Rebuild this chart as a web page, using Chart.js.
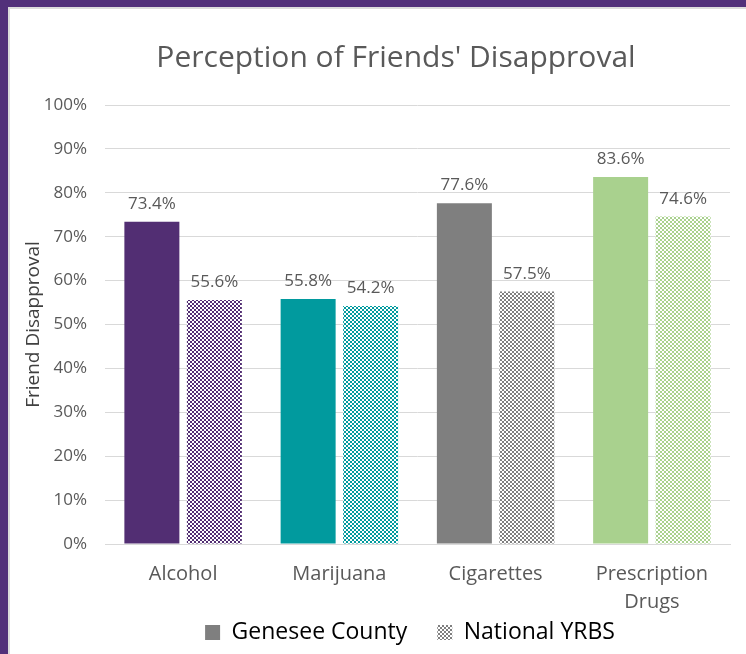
<!DOCTYPE html>
<html>
<head>
<meta charset="utf-8">
<script src="https://cdn.jsdelivr.net/npm/chart.js@4.4.0/dist/chart.umd.min.js"></script>
<style>
    html, body { margin: 0; padding: 0; }
    body { width: 746px; height: 654px; background: #52307a; position: relative; overflow: hidden; }
    #panel {
        position: absolute; left: 8px; top: 7px; width: 738px; height: 647px;
        background: #ffffff; box-sizing: border-box;
        border-left: 2px solid #dcdcdc; border-top: 2px solid #dcdcdc;
    }
    #wrap { position: absolute; left: 0; top: 0; width: 736px; height: 645px; }
</style>
</head>
<body>
<div id="panel"><div id="wrap"><canvas id="friendChart"></canvas></div></div>
<script>
// ===========================
// Data
// ===========================
const categories = ['Alcohol', 'Marijuana', 'Cigarettes', ['Prescription', 'Drugs']];
const geneseeValues = [73.4, 55.8, 77.6, 83.6];
const nationalValues = [55.6, 54.2, 57.5, 74.6];
const yTicks = [0, 10, 20, 30, 40, 50, 60, 70, 80, 90, 100];

const barColors = ['#522e73', '#019a9e', '#7f7f7f', '#a9d18e'];
const legendGray = '#7f7f7f';
const textGray = '#595959';

// checkerboard fill like Excel's pattern
function makePattern(color) {
    const c = document.createElement('canvas');
    c.width = 4;
    c.height = 4;
    const g = c.getContext('2d');
    g.fillStyle = '#ffffff';
    g.fillRect(0, 0, 4, 4);
    g.fillStyle = color;
    g.fillRect(0, 0, 2, 2);
    g.fillRect(2, 2, 2, 2);
    return g.createPattern(c, 'repeat');
}

const ctx = document.getElementById('friendChart');
const patterns = barColors.map(c => makePattern(c));

// value labels above the bars
const valueLabels = {
    id: 'valueLabels',
    afterDatasetsDraw(chart) {
        const g = chart.ctx;
        g.save();
        g.font = '17px "Open Sans"';
        g.fillStyle = textGray;
        g.textAlign = 'center';
        g.textBaseline = 'alphabetic';
        chart.data.datasets.forEach((ds, i) => {
            chart.getDatasetMeta(i).data.forEach((bar, j) => {
                g.fillText(ds.data[j].toFixed(1) + '%', bar.x, bar.y - 13);
            });
        });
        g.restore();
    }
};

// nudge title / legend like the Excel layout, and let the
// two-line x label spill below the axis box
const layoutTweaks = {
    id: 'layoutTweaks',
    afterLayout(chart) {
        if (chart.titleBlock) {
            chart.titleBlock.left += 24;
            chart.titleBlock.right += 24;
        }
        if (chart.legend) {
            chart.legend.left += 38;
            chart.legend.right += 38;
        }
        chart.scales.x.bottom = chart.height;
    }
};

new Chart(ctx, {
    type: 'bar',
    data: {
        labels: categories,
        datasets: [{
            label: 'Genesee County',
            data: geneseeValues,
            backgroundColor: barColors,
            borderWidth: 0
        }, {
            label: 'National YRBS',
            data: nationalValues,
            backgroundColor: patterns,
            borderWidth: 0
        }]
    },
    options: {
        responsive: true,
        maintainAspectRatio: false,
        animation: false,
        datasets: {
            bar: {
                categoryPercentage: 0.8,
                barPercentage: 0.88
            }
        },
        layout: {
            padding: { top: 20, left: 4, right: 16, bottom: 0 }
        },
        plugins: {
            title: {
                display: true,
                text: "Perception of Friends' Disapproval",
                color: textGray,
                font: { family: '"Open Sans"', size: 30, weight: 'normal' },
                padding: { top: 11, bottom: 29 }
            },
            legend: {
                position: 'bottom',
                labels: {
                    color: textGray,
                    font: { family: '"Open Sans"', size: 23 },
                    boxWidth: 15,
                    boxHeight: 15,
                    padding: 30,
                    generateLabels() {
                        return [
                            { text: 'Genesee County', fillStyle: legendGray, strokeStyle: legendGray, lineWidth: 0, datasetIndex: 0 },
                            { text: 'National YRBS', fillStyle: makePattern(legendGray), strokeStyle: '#ffffff', lineWidth: 0, datasetIndex: 1 }
                        ];
                    }
                }
            },
            tooltip: { enabled: false }
        },
        scales: {
            x: {
                grid: { display: false, drawTicks: false },
                border: { color: '#d9d9d9', width: 1 },
                ticks: {
                    color: textGray,
                    font: { family: '"Open Sans"', size: 20, lineHeight: 1.4 },
                    padding: 16,
                    maxRotation: 0
                },
                afterFit(scale) { scale.height = 47; }
            },
            y: {
                min: 0,
                max: 100,
                afterBuildTicks(scale) {
                    scale.ticks = yTicks.map(v => ({ value: v }));
                },
                grid: { color: '#d9d9d9', lineWidth: 1, drawTicks: false },
                border: { display: false },
                ticks: {
                    color: textGray,
                    font: { family: '"Open Sans"', size: 17 },
                    padding: 18,
                    callback: v => v + '%'
                },
                title: {
                    display: true,
                    text: 'Friend Disapproval',
                    color: '#404040',
                    font: { family: '"Open Sans"', size: 19 },
                    padding: { top: 8, bottom: 0 }
                },
                afterFit(scale) { scale.width = 91; }
            }
        }
    },
    plugins: [valueLabels, layoutTweaks]
});
</script>
</body>
</html>
